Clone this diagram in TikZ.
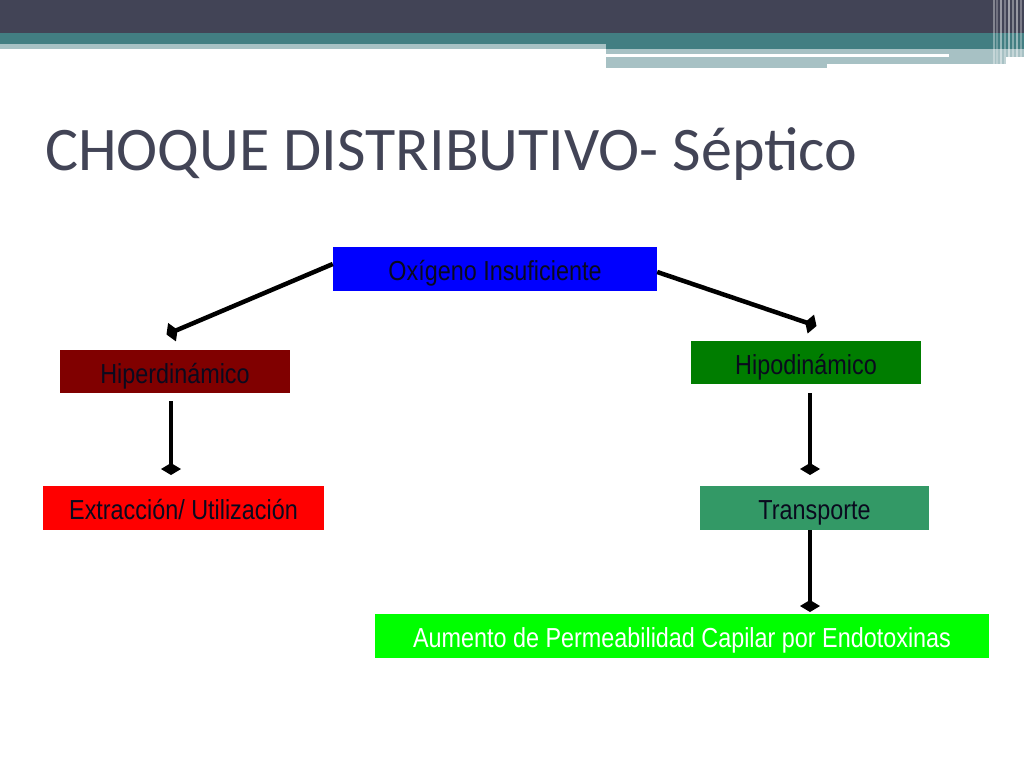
\documentclass[tikz,border=0pt]{standalone}
\usepackage{fontspec}
\setmainfont{Liberation Sans}
\newfontfamily\titlefont{Carlito}
\usetikzlibrary{arrows.meta,calc}
\definecolor{hdark}{HTML}{424456}
\definecolor{hteal}{HTML}{427E82}
\definecolor{hlight}{HTML}{A7C1C4}
\definecolor{boxtext}{HTML}{0A0A1E}
\newcommand{\boxtxt}[1]{\raisebox{-11.5pt}[0pt][0pt]{\scalebox{0.85}[1]{\fontsize{27.5}{30}\selectfont #1}}}
\tikzset{
  box/.style={rectangle, inner sep=0pt, minimum height=44pt, text=boxtext},
  conn/.style={line width=4.5pt, -{Diamond[length=12pt,width=20pt]}},
}
\begin{document}
\begin{tikzpicture}[x=1pt,y=-1pt]
\useasboundingbox (0,0) rectangle (1024,768);
\fill[white] (0,0) rectangle (1024,768);
% header
\fill[hdark] (0,0) rectangle (1024,33);
\fill[hteal] (0,33) rectangle (1024,44);
\fill[hteal] (606,44) rectangle (1024,49);
\fill[hlight] (0,44) rectangle (606,49);
\fill[hlight] (606,49) rectangle (1024,57);
\fill[white] (606,54) rectangle (949,57);
\fill[hlight] (606,57) rectangle (827,68);
\fill[hlight] (827,57) rectangle (1006,64);
\foreach \xx/\op in {993/0.35,996/0.25,1000/0.45,1004/0.3,1008/0.5,1012/0.35,1016/0.45,1020/0.3}
  \fill[white,opacity=\op] (\xx,0) rectangle ++(2,68);
\fill[white] (1006,64) rectangle (1024,68);
% title
\node[anchor=base west, inner sep=0pt, text=hdark] (title) at (45,170)
  {\titlefont\fontsize{62}{70}\selectfont CHOQUE DISTRIBUTIVO- Séptico};
% nodes
\node[box, fill=blue, minimum width=324pt] (ox) at (495,269) {\boxtxt{Oxígeno Insuficiente}};
\node[box, fill={rgb,255:red,128;green,0;blue,0}, minimum width=230pt, minimum height=43pt] (hiper) at (175,371.5) {\boxtxt{Hiperdinámico}};
\node[box, fill={rgb,255:red,0;green,125;blue,0}, minimum width=230pt, minimum height=43pt] (hipo) at (806,362.5) {\boxtxt{Hipodinámico}};
\node[box, fill=red, minimum width=281pt] (ext) at (183.5,508) {\boxtxt{Extracción/ Utilización}};
\node[box, fill={rgb,255:red,51;green,153;blue,102}, minimum width=229pt] (trans) at (814.5,508) {\boxtxt{Transporte}};
\node[box, fill={rgb,255:red,0;green,255;blue,0}, text=white, minimum width=614pt] (aum) at (682,636) {\boxtxt{Aumento de Permeabilidad Capilar por Endotoxinas}};
% connector ends
\coordinate (e1) at (166.5,334.5);
\coordinate (e2) at (816.5,326);
\coordinate (e3) at (171,475);
\coordinate (e4) at (810,475);
\coordinate (e5) at (810,612);
\draw[conn] ($(ox.west)+(0,-5)$) -- (e1);
\draw[conn] ($(ox.east)+(0,3)$) -- (e2);
\draw[conn] ($(hiper.south)+(-4,8)$) -- (e3);
\draw[conn] ($(hipo.south)+(4,9)$) -- (e4);
\draw[conn] ($(trans.south)+(-4.5,0)$) -- (e5);
\end{tikzpicture}
\end{document}
